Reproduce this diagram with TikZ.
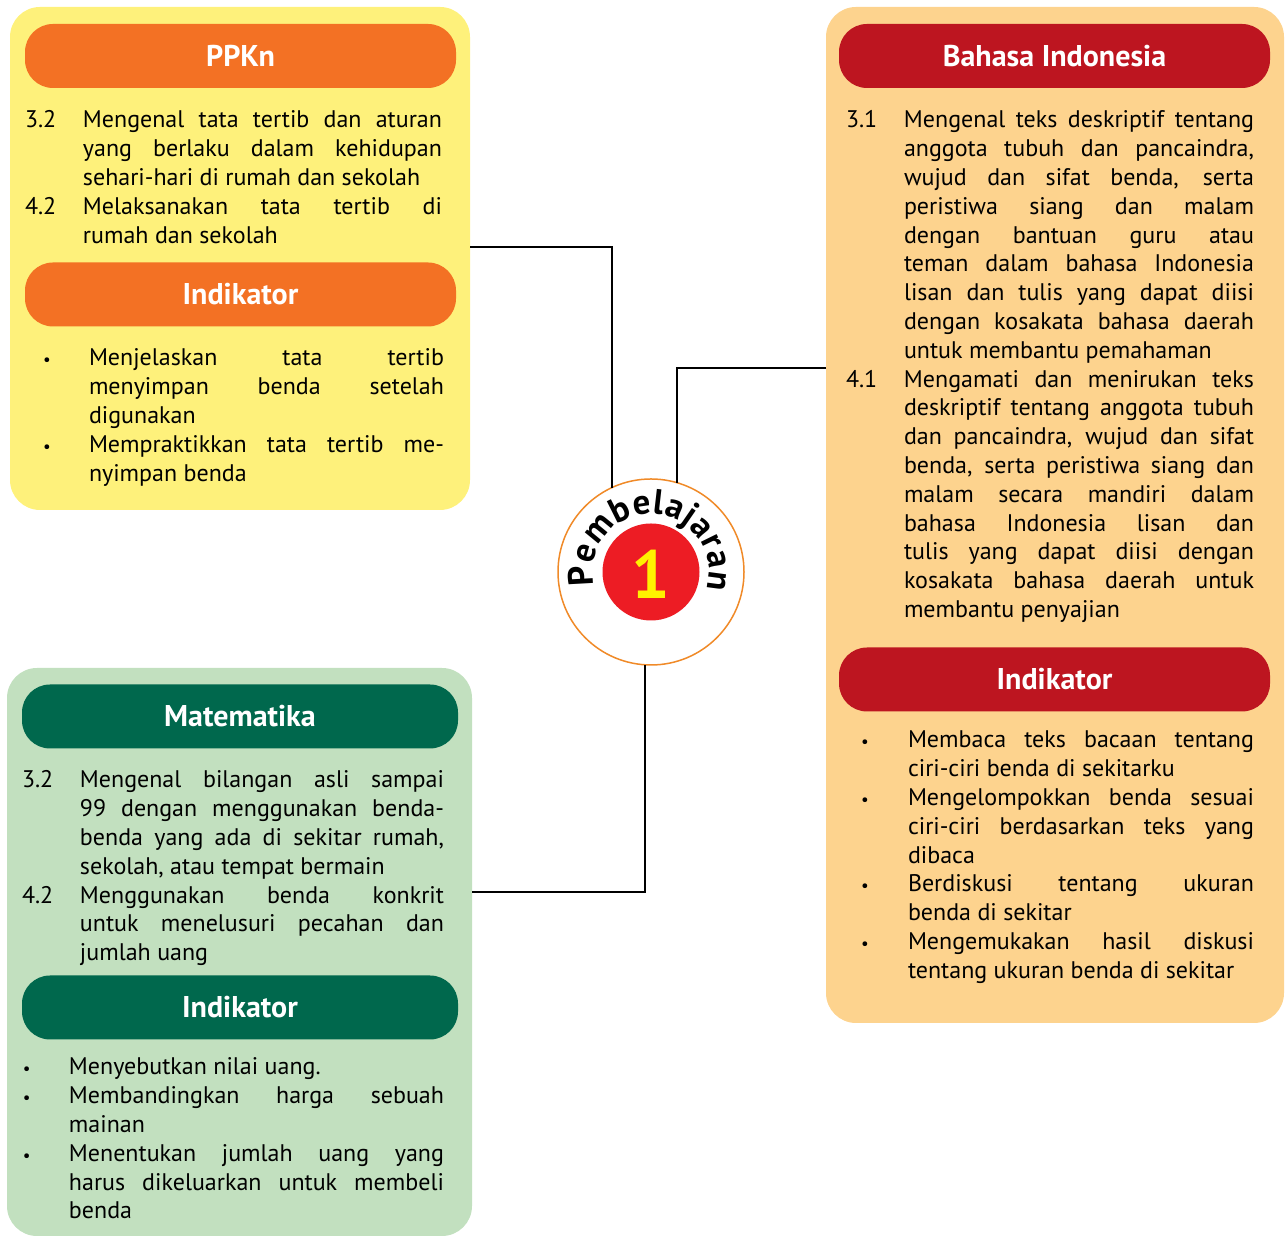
\documentclass[tikz,border=0pt]{standalone}
\usepackage{fontspec}
\setmainfont{PT Sans}
\usetikzlibrary{decorations.text}
\definecolor{yelbg}{HTML}{FEF17B}
\definecolor{orhead}{HTML}{F37124}
\definecolor{orbg}{HTML}{FDD38E}
\definecolor{redhead}{HTML}{BD1520}
\definecolor{grbg}{HTML}{C2E0BF}
\definecolor{grhead}{HTML}{00684D}
\definecolor{cring}{HTML}{F08A28}
\definecolor{cred}{HTML}{ED1C24}
\definecolor{cyel}{HTML}{FFF200}
\hyphenpenalty=10000
\exhyphenpenalty=10000
\tolerance=10000
\hbadness=10000
\newcommand\myitem[4]{\makebox[#1][l]{#2}\parbox[t]{#3}{#4}}
\newcommand\mybul{{\fontsize{17}{17}\selectfont\textbullet}}
\begin{document}
\begin{tikzpicture}[x=1pt,y=1pt,
  panel/.style={rectangle, rounded corners=30, inner sep=0, outer sep=0},
  head/.style={rectangle, rounded corners=28, minimum height=64, inner sep=0, outer sep=0,
    text=white, font=\fontsize{30}{30}\selectfont\bfseries},
  itm/.style={anchor=base west, inner sep=0, outer sep=0, font=\fontsize{24}{28.8}\selectfont},
  conn/.style={line width=2, black}]
\useasboundingbox (0,0) rectangle (1286,1236);

% panels
\node[panel, fill=yelbg, minimum width=460, minimum height=503] (ppk) at (240,977.5) {};
\node[panel, fill=orbg, minimum width=458, minimum height=1016] (bi) at (1055,721) {};
\node[panel, fill=grbg, minimum width=465, minimum height=568] (mat) at (239.5,284) {};

% headers
\node[head, fill=orhead, minimum width=431] (ppkh) at (240.5,1180) {PPKn};
\node[head, fill=orhead, minimum width=431] (ppki) at (240.5,941.5) {Indikator};
\node[head, fill=redhead, minimum width=431] (bih) at (1054.5,1180) {Bahasa Indonesia};
\node[head, fill=redhead, minimum width=431] (bii) at (1054.5,556.5) {Indikator};
\node[head, fill=grhead, minimum width=436] (math) at (240,519.5) {Matematika};
\node[head, fill=grhead, minimum width=436] (mati) at (240,228.5) {Indikator};

% PPKn texts
\node[itm] (p1) at (25,1108) {\myitem{58pt}{3.2}{359pt}{Mengenal tata tertib dan aturan\linebreak yang berlaku dalam kehidupan\linebreak sehari-hari di rumah dan sekolah}};
\node[itm] (p2) at (25,1021.6) {\myitem{58pt}{4.2}{359pt}{Melaksanakan tata tertib di\linebreak rumah dan sekolah}};
\node[itm] (p3) at (43,870) {\myitem{46pt}{\mybul}{355pt}{Menjelaskan tata tertib\linebreak menyimpan benda setelah\linebreak digunakan}};
\node[itm] (p4) at (43,783.6) {\myitem{46pt}{\mybul}{355pt}{Mempraktikkan tata tertib me-\linebreak nyimpan benda}};

% Bahasa Indonesia texts
\node[itm] (b1) at (846,1108) {\myitem{58pt}{3.1}{350pt}{Mengenal teks deskriptif tentang\linebreak anggota tubuh dan pancaindra,\linebreak wujud dan sifat benda, serta\linebreak peristiwa siang dan malam\linebreak dengan bantuan guru atau\linebreak teman dalam bahasa Indonesia\linebreak lisan dan tulis yang dapat diisi\linebreak dengan kosakata bahasa daerah\linebreak untuk membantu pemahaman}};
\node[itm] (b2) at (846,848.8) {\myitem{58pt}{4.1}{350pt}{Mengamati dan menirukan teks\linebreak deskriptif tentang anggota tubuh\linebreak dan pancaindra, wujud dan sifat\linebreak benda, serta peristiwa siang dan\linebreak malam secara mandiri dalam\linebreak bahasa Indonesia lisan dan\linebreak tulis yang dapat diisi dengan\linebreak kosakata bahasa daerah untuk\linebreak membantu penyajian}};
\node[itm] (b3) at (861,488) {\myitem{47pt}{\mybul}{346pt}{Membaca teks bacaan tentang\linebreak ciri-ciri benda di sekitarku}};
\node[itm] (b4) at (861,430.4) {\myitem{47pt}{\mybul}{346pt}{Mengelompokkan benda sesuai\linebreak ciri-ciri berdasarkan teks yang\linebreak dibaca}};
\node[itm] (b5) at (861,344) {\myitem{47pt}{\mybul}{346pt}{Berdiskusi tentang ukuran\linebreak benda di sekitar}};
\node[itm] (b6) at (861,286.4) {\myitem{47pt}{\mybul}{346pt}{Mengemukakan hasil diskusi\linebreak tentang ukuran benda di sekitar}};

% Matematika texts
\node[itm] (m1) at (22,448) {\myitem{58pt}{3.2}{364pt}{Mengenal bilangan asli sampai\linebreak 99 dengan menggunakan benda-\linebreak benda yang ada di sekitar rumah,\linebreak sekolah, atau tempat bermain}};
\node[itm] (m2) at (22,332.8) {\myitem{58pt}{4.2}{364pt}{Menggunakan benda konkrit\linebreak untuk menelusuri pecahan dan\linebreak jumlah uang}};
\node[itm] (m3) at (23,161) {\myitem{46pt}{\mybul}{375pt}{Menyebutkan nilai uang.}};
\node[itm] (m4) at (23,132.2) {\myitem{46pt}{\mybul}{375pt}{Membandingkan harga sebuah\linebreak mainan}};
\node[itm] (m5) at (23,74.6) {\myitem{46pt}{\mybul}{375pt}{Menentukan jumlah uang yang\linebreak harus dikeluarkan untuk membeli\linebreak benda}};

% center circle
\node[circle, draw=cring, line width=1.5, fill=white, minimum size=186, inner sep=0, outer sep=0] (pb) at (651,664) {};
\node[circle, fill=cred, minimum size=97, inner sep=0, outer sep=0] (red) at (pb.center) {};
\node[text=cyel, font=\fontsize{68}{68}\selectfont\bfseries, inner sep=0] (one) at (651,662) {1};
\path[decorate, decoration={text along path, text align=fit to path,
  text={|\fontsize{35}{35}\selectfont\bfseries|Pembelajaran}}]
  (pb.center) ++(193:58) arc[start angle=193, end angle=-17, radius=58];

% connectors
\draw[conn] (ppk.east) ++(0,11.5) -| (pb.115.5);
\draw[conn] (bi.west) ++(0,147) -| (pb.74.4);
\draw[conn] (mat.east) ++(0,60) -| (pb.266.9);
\end{tikzpicture}
\end{document}
